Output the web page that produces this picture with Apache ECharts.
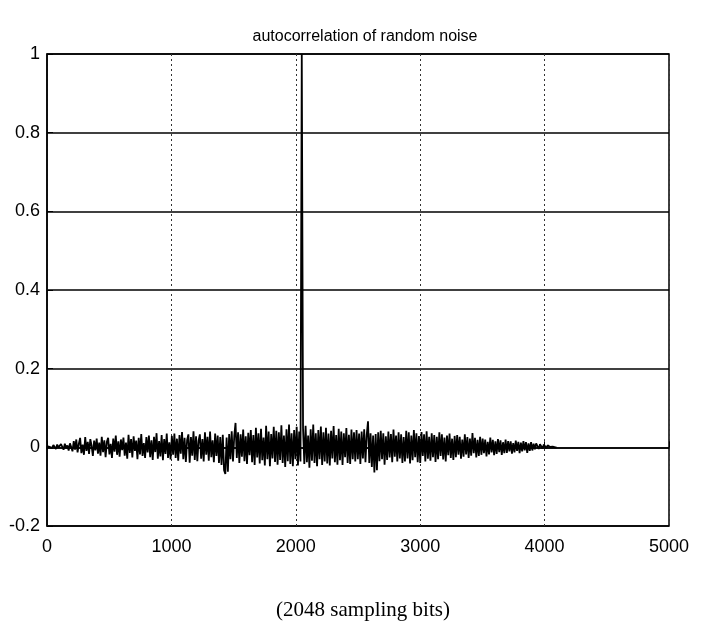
<!DOCTYPE html>
<html>
<head>
<meta charset="utf-8">
<script src="https://cdn.jsdelivr.net/npm/echarts@6/dist/echarts.min.js"></script>
<style>
  html, body { margin: 0; padding: 0; background: #fff; }
  #chart { width: 716px; height: 634px; }
</style>
</head>
<body>
<div id="chart"></div>
<script>
// sample spacing: 400 steps over 0..4096, index 200 is lag 2048
const lagStep = 10.24;
// autocorrelation values
const corr = [
  0.003, 0.005, 0.001, 0.004, -0.002, 0.006, 0.002, -0.004, 0.007, 0.000, -0.005, 0.008, 0.003, -0.006, 0.009, -0.002, 0.005, -0.008, 0.010, 0.001,
  -0.010, 0.016, -0.006, 0.020, -0.013, 0.009, 0.024, -0.015, 0.007, -0.019, 0.026, -0.009, 0.014, -0.017, 0.021, 0.004, -0.022, 0.017, -0.008, 0.022,
  -0.016, 0.012, -0.021, 0.027, -0.012, 0.018, -0.025, 0.014, 0.024, -0.018, 0.009, -0.027, 0.022, -0.011, 0.030, -0.019, 0.015, -0.024, 0.020, -0.007,
  0.025, -0.021, 0.012, -0.029, 0.032, -0.014, 0.021, -0.026, 0.028, -0.009, 0.017, -0.030, 0.024, -0.018, 0.034, -0.022, 0.011, -0.027, 0.026, -0.013,
  0.030, -0.025, 0.018, -0.032, 0.027, -0.012, 0.036, -0.029, 0.016, -0.023, 0.031, -0.033, 0.021, -0.017, 0.035, -0.027, 0.013, -0.031, 0.029, -0.019,
  0.035, -0.027, 0.022, -0.034, 0.031, -0.016, 0.039, -0.030, 0.024, -0.037, 0.019, 0.033, -0.039, 0.026, -0.021, 0.041, -0.032, 0.028, -0.035, 0.017,
  0.033, -0.029, 0.021, -0.036, 0.038, -0.019, 0.027, -0.034, 0.040, -0.025, 0.018, -0.038, 0.035, -0.022, 0.030, -0.040, 0.026, -0.045, 0.032, -0.058,
  -0.068, 0.025, -0.062, 0.034, -0.030, 0.041, -0.036, 0.029, 0.062, -0.027, 0.038, -0.040, 0.033, -0.024, 0.045, -0.035, 0.028, -0.042, 0.037, -0.020,
  0.044, -0.038, 0.031, -0.045, 0.050, -0.026, 0.036, -0.041, 0.047, -0.033, 0.025, -0.046, 0.055, -0.030, 0.040, -0.048, 0.034, -0.028, 0.052, -0.037,
  0.042, -0.044, 0.038, -0.032, 0.056, -0.040, 0.030, -0.050, 0.046, -0.035, 0.058, -0.042, 0.036, -0.048, 0.044, -0.030, 0.052, -0.046, 0.040, -0.036,
  1,
  0.048, -0.042, 0.055, -0.038, 0.030, -0.052, 0.046, -0.034, 0.058, -0.040, 0.036, -0.048, 0.044, -0.030, 0.053, -0.045, 0.038, -0.036, 0.050, -0.041,
  0.035, -0.046, 0.042, -0.028, 0.054, -0.038, 0.031, -0.044, 0.047, -0.033, 0.040, -0.045, 0.036, -0.025, 0.049, -0.040, 0.032, -0.042, 0.045, -0.030,
  0.038, -0.036, 0.044, -0.030, 0.035, -0.042, 0.040, -0.028, 0.046, -0.038, 0.032, 0.066, -0.040, 0.036, -0.050, 0.030, -0.064, 0.034, -0.058, 0.038,
  -0.035, 0.042, -0.030, 0.036, -0.044, 0.028, -0.032, 0.040, -0.026, 0.034, -0.038, 0.045, -0.024, 0.030, -0.036, 0.038, -0.028, 0.033, -0.040, 0.026,
  -0.036, 0.042, -0.028, 0.038, -0.041, 0.030, -0.033, 0.044, -0.025, 0.036, -0.038, 0.029, -0.040, 0.039, -0.022, 0.033, -0.036, 0.041, -0.029, 0.027,
  -0.034, 0.036, -0.025, 0.031, -0.037, 0.027, -0.030, 0.038, -0.022, 0.033, -0.031, 0.025, -0.036, 0.030, -0.020, 0.035, -0.027, 0.022, -0.032, 0.029,
  -0.025, 0.031, -0.019, 0.027, -0.029, 0.020, -0.024, 0.033, -0.018, 0.026, -0.027, 0.022, -0.021, 0.036, -0.015, 0.024, -0.026, 0.019, -0.022, 0.027,
  -0.019, 0.022, -0.015, 0.020, -0.023, 0.014, -0.018, 0.025, -0.013, 0.019, -0.020, 0.015, -0.017, 0.021, -0.012, 0.018, -0.019, 0.013, -0.015, 0.020,
  -0.014, 0.016, -0.010, 0.015, -0.016, 0.011, -0.013, 0.017, -0.009, 0.014, -0.015, 0.012, -0.010, 0.016, -0.008, 0.013, -0.014, 0.010, -0.009, 0.013,
  -0.008, 0.009, -0.005, 0.010, 0.012, -0.004, 0.008, 0.006, -0.003, 0.007, 0.004, -0.002, 0.005, 0.003, 0.001, 0.003, 0.002, 0.001, 0.000, 0.000
];
const xTicks = [0, 1000, 2000, 3000, 4000, 5000];
const yTicks = [-0.2, 0, 0.2, 0.4, 0.6, 0.8, 1];

const points = corr.map((v, i) => [i * lagStep, v]);

const chart = echarts.init(document.getElementById('chart'), null, { renderer: 'canvas' });
const font = '"Liberation Sans", Arial, sans-serif';

chart.setOption({
  animation: false,
  backgroundColor: '#fff',
  title: [{
    text: 'autocorrelation of random noise',
    left: 360, top: 24, textAlign: 'center',
    textStyle: { fontFamily: font, fontSize: 16, fontWeight: 'normal', color: '#000' }
  }, {
    text: '(2048 sampling bits)',
    left: 358, top: 595, textAlign: 'center',
    textStyle: { fontFamily: '"Liberation Serif", "DejaVu Serif", serif', fontSize: 21, fontWeight: 'normal', color: '#000' }
  }],
  grid: {
    left: 47, right: 47, top: 54, bottom: 108,
    show: true, borderColor: '#000', borderWidth: 1.5, backgroundColor: '#fff'
  },
  xAxis: {
    type: 'value', min: xTicks[0], max: xTicks[xTicks.length - 1], interval: 1000,
    axisLine: { show: true, lineStyle: { color: '#000', width: 1.5 } },
    axisTick: { show: true, inside: true, length: 6, lineStyle: { color: '#000' } },
    axisLabel: { color: '#000', fontFamily: font, fontSize: 18, margin: 12, formatter: v => String(v) },
    splitLine: { show: true, lineStyle: { color: '#333', type: [2, 3], width: 1 } }
  },
  yAxis: {
    type: 'value', min: yTicks[0], max: yTicks[yTicks.length - 1], interval: 0.2,
    axisLine: { show: true, lineStyle: { color: '#000', width: 1.5 } },
    axisTick: { show: true, inside: true, length: 6, lineStyle: { color: '#000' } },
    axisLabel: {
      color: '#000', fontFamily: font, fontSize: 18, margin: 7,
      formatter: v => String(Math.round(v * 10) / 10)
    },
    splitLine: { show: true, lineStyle: { color: '#000', width: 1.5 } }
  },
  series: [{
    type: 'line',
    data: points,
    showSymbol: false,
    lineStyle: { color: '#000', width: 1.8 },
    z: 5
  }]
});
</script>
</body>
</html>
